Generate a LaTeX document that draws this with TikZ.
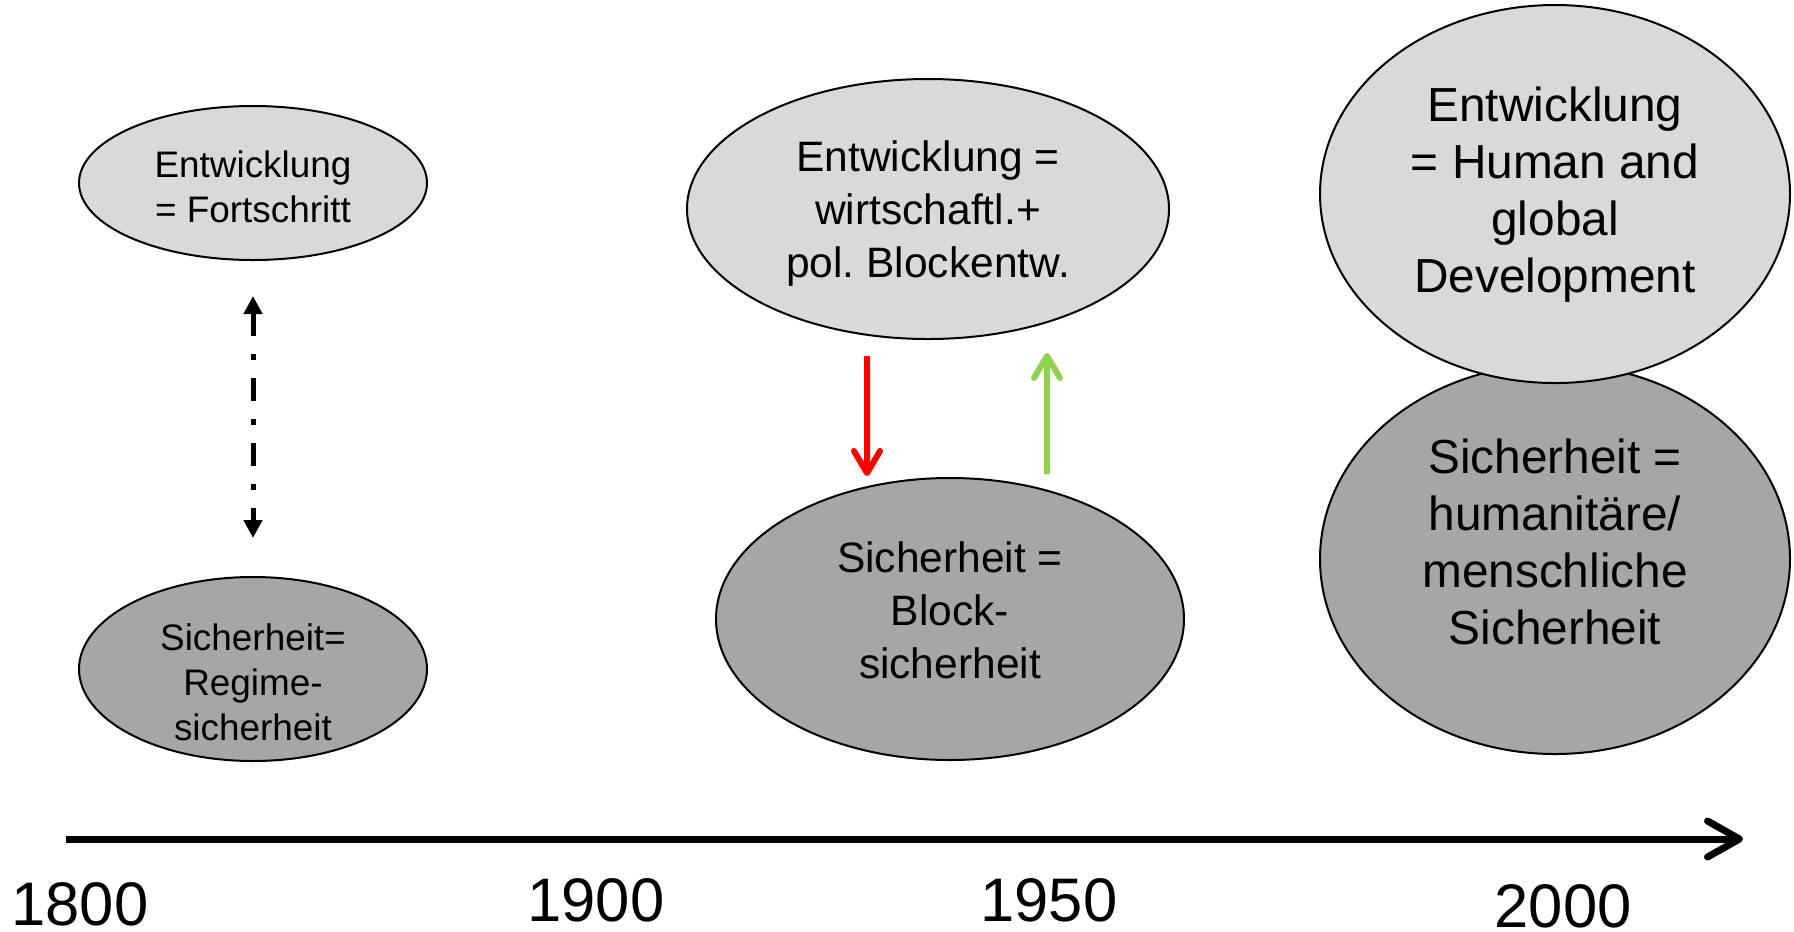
\documentclass[tikz,border=0pt]{standalone}
\usepackage{fontspec}
\setmainfont{Liberation Sans}
\usetikzlibrary{positioning, arrows.meta, shapes.geometric}
\definecolor{entwgray}{RGB}{217,217,217}
\definecolor{sichgray}{RGB}{166,166,166}
\definecolor{arrowred}{RGB}{255,0,0}
\definecolor{arrowgreen}{RGB}{146,208,80}
\frenchspacing

\begin{document}
\begin{tikzpicture}[
  x=0.1mm, y=-0.1mm,
  ellbox/.style={draw, ellipse, line width=0.2mm, inner sep=0pt},
  txtS/.style={align=center, font=\fontsize{10.5}{12.8}\selectfont},
  txtM/.style={align=center, font=\fontsize{12.1}{15.1}\selectfont},
  txtL/.style={align=center, font=\fontsize{13.6}{16.2}\selectfont},
  yearlbl/.style={font=\fontsize{17.5}{21}\selectfont},
  updown/.style={{Triangle[length=1.8mm,width=1.8mm]}-{Triangle[length=1.8mm,width=1.8mm]},
                 line width=0.5mm, dash pattern=on 2.3mm off 1.8mm on 0.6mm off 1.8mm},
  arrow/.style={-{Straight Barb[length=2.2mm,width=2.6mm,round]}, line width=0.6mm},
  timeline/.style={-{Straight Barb[length=3.2mm,width=3.6mm,round]}, line width=0.7mm}
]
  \useasboundingbox (0,0) rectangle (1794,931);

  % 1800
  \node[ellbox, fill=entwgray, minimum width=34.8mm, minimum height=15.4mm] (entw1) at (253,183) {};
  \node[ellbox, fill=sichgray, minimum width=34.8mm, minimum height=18.4mm, below=31.5mm of entw1] (sich1) {};
  \node[txtS] (entw1txt) at ([yshift=-0.4mm]entw1.center) {Entwicklung\\= Fortschritt};
  \node[txtS] (sich1txt) at ([yshift=-1.3mm]sich1.center) {Sicherheit=\\Regime-\\sicherheit};
  \draw[updown, shorten <=3.5mm, shorten >=3.8mm] (entw1.south) -- (sich1.north);

  % 1950
  \node[ellbox, fill=entwgray, minimum width=48.2mm, minimum height=26mm] (entw2) at (928,209) {};
  \node[ellbox, fill=sichgray, minimum width=46.8mm, minimum height=28.2mm, below=13.7mm of entw2, xshift=2.2mm] (sich2) {};
  \node[txtM] (entw2txt) at ([yshift=-0.45mm]entw2.center) {Entwicklung =\\wirtschaftl.+\\pol. Blockentw.};
  \node[txtM] (sich2txt) at ([yshift=0.85mm]sich2.center) {Sicherheit =\\Block-\\sicherheit};
  \draw[arrow, arrowred, shorten <=1.6mm, shorten >=0.1mm] ([xshift=-6.1mm]entw2.south) -- ([xshift=-8.3mm]sich2.north);
  \draw[arrow, arrowgreen, shorten <=0.3mm, shorten >=1.3mm] ([xshift=9.7mm]sich2.north) -- ([xshift=11.9mm]entw2.south);

  % 2000
  \node[ellbox, fill=sichgray, minimum width=47mm, minimum height=39mm] (sich3) at (1555,559) {};
  \node[ellbox, fill=entwgray, minimum width=47mm, minimum height=37.8mm, above=-2.1mm of sich3] (entw3) {};
  \node[txtL] (entw3txt) at ([yshift=-0.1mm]entw3.center) {Entwicklung\\= Human and\\global\\Development};
  \node[txtL] (sich3txt) at ([yshift=1.7mm]sich3.center) {Sicherheit =\\humanitäre/\\menschliche\\Sicherheit};

  % Zeitachse
  \coordinate (tstart) at (66,839);
  \coordinate (tend) at (1743,839);
  \draw[timeline] (tstart) -- (tend);
  \node[yearlbl] (y1800) at (80,904) {1800};
  \node[yearlbl] (y1900) at (596,900) {1900};
  \node[yearlbl] (y1950) at (1049,900) {1950};
  \node[yearlbl] (y2000) at (1563,906) {2000};
\end{tikzpicture}
\end{document}
